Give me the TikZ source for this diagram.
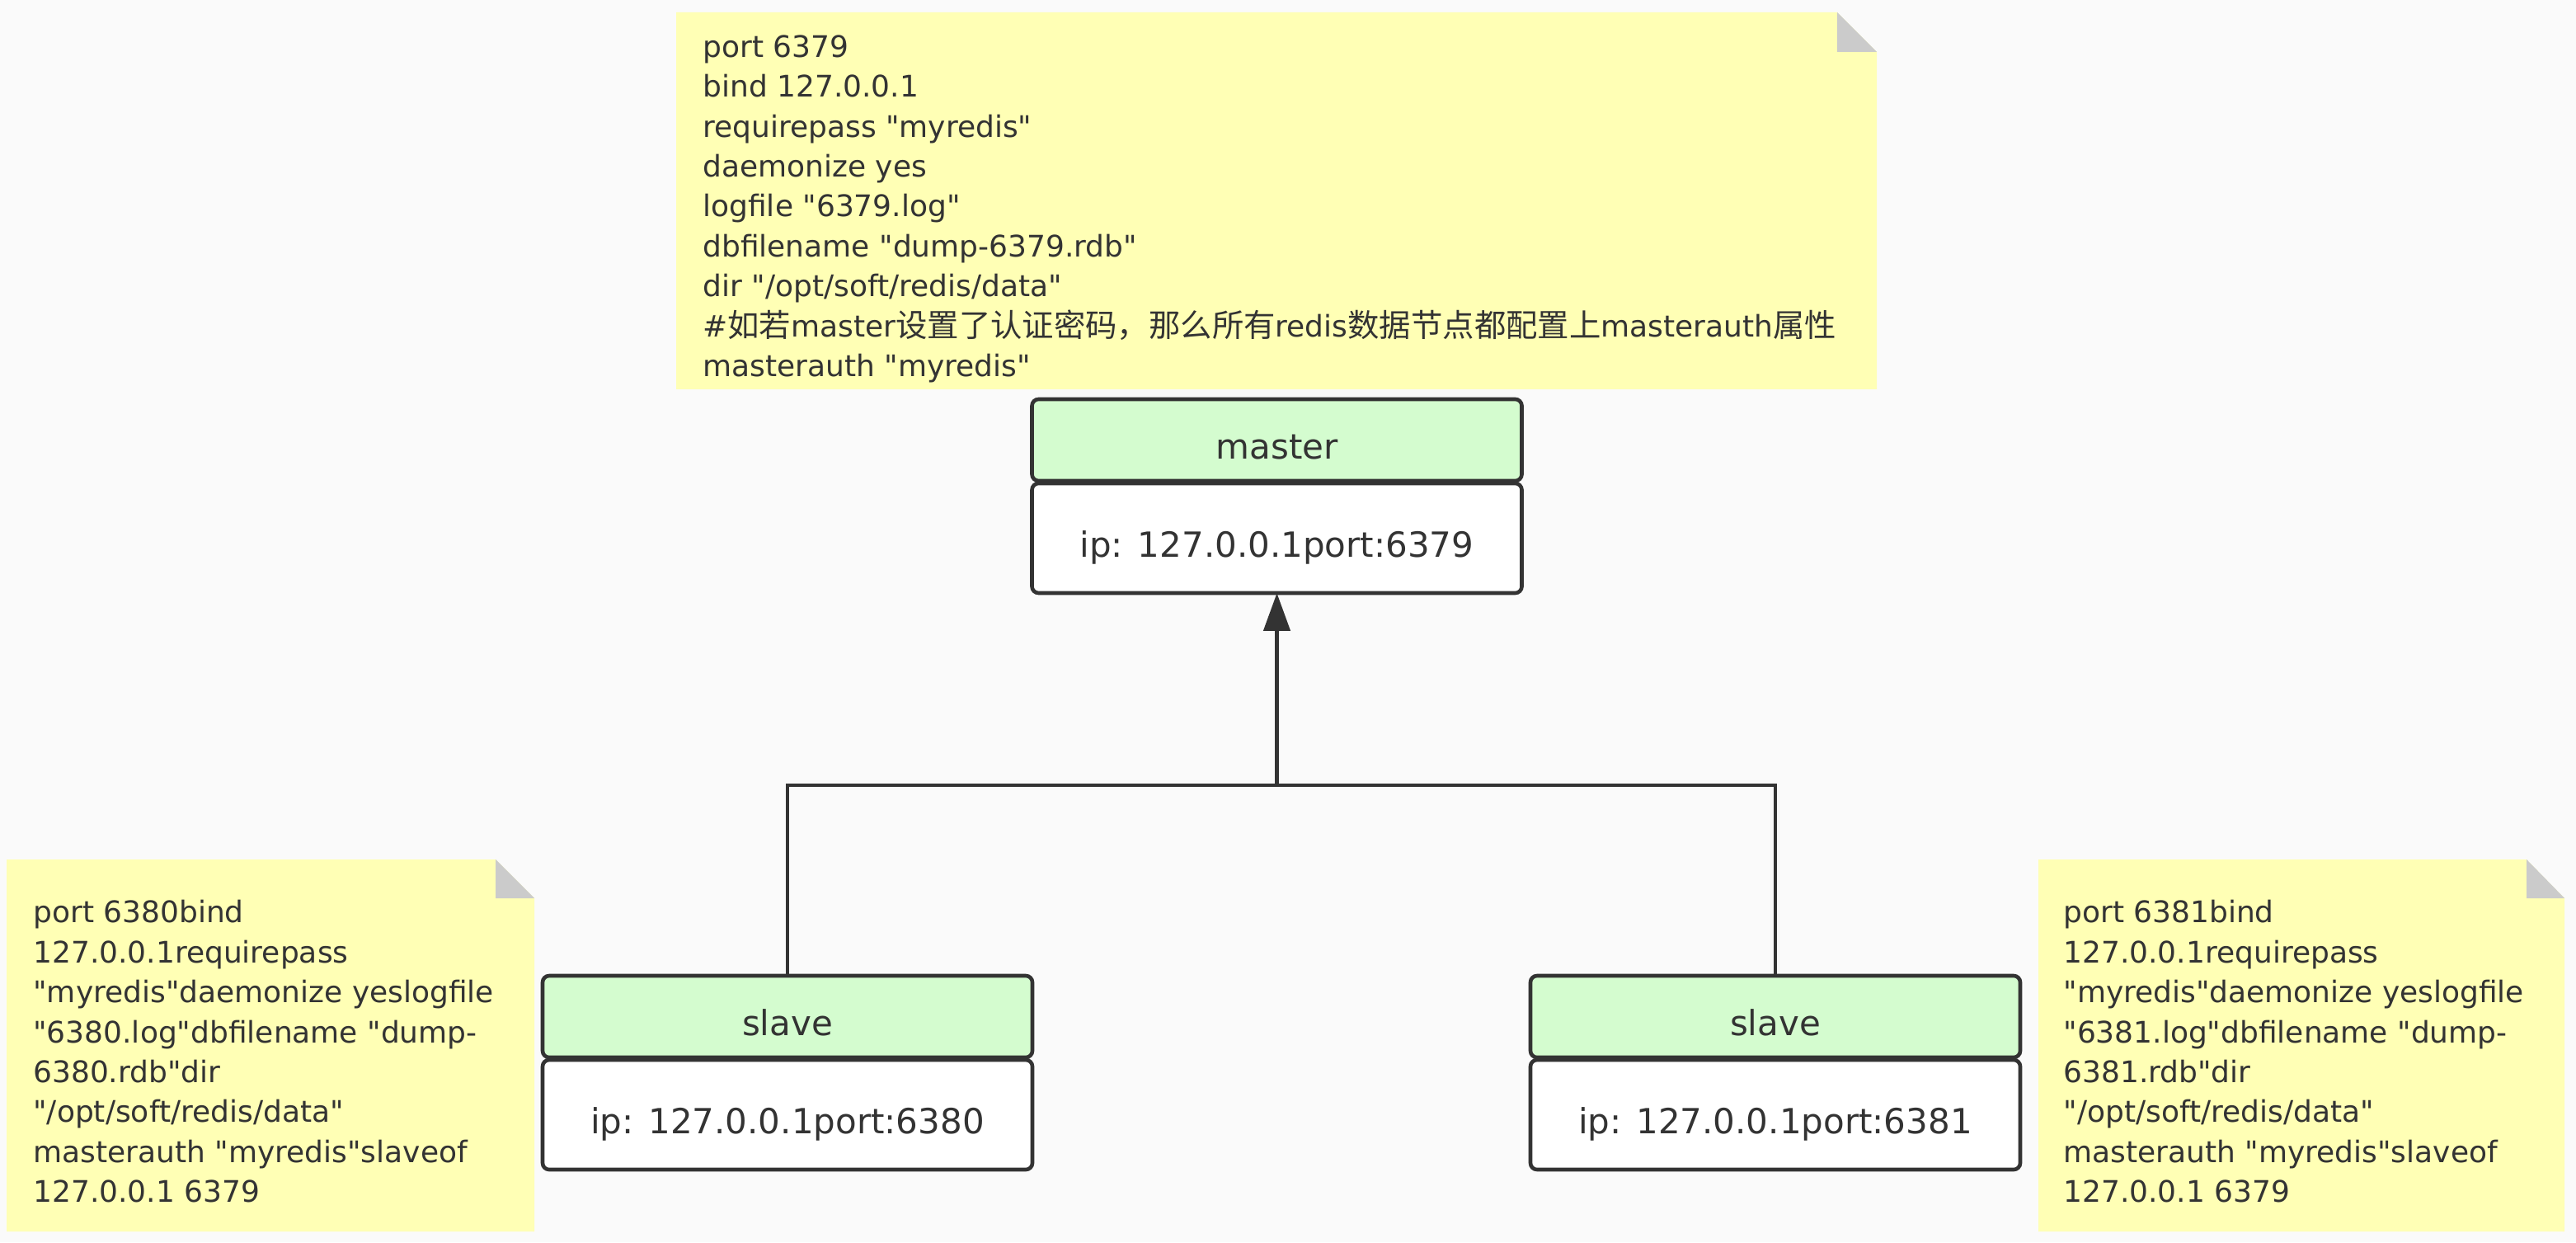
\documentclass[tikz,border=0pt]{standalone}
\usepackage{fontspec}
\setmainfont{DejaVu Sans}[Ligatures=TeXOff]
\newfontfamily\cjk{Noto Sans CJK SC}[Scale=1.066]
\usetikzlibrary{arrows.meta, positioning, calc}

\definecolor{bgcol}{HTML}{FAFAFA}
\definecolor{notecol}{HTML}{FFFFB5}
\definecolor{foldcol}{HTML}{CBCBCB}
\definecolor{headcol}{HTML}{D4FCCF}
\definecolor{inkcol}{HTML}{333333}

\tikzset{
  cardhead/.style={draw=inkcol, fill=headcol, line width=2.3pt, rounded corners=4pt,
    minimum width=297pt, minimum height=49.5pt, inner sep=0pt, outer sep=0pt,
    text=inkcol, font=\fontsize{21}{25}\selectfont, text height=23pt, text depth=0pt},
  cardbody/.style={cardhead, fill=white, minimum height=66.5pt},
  link/.style={draw=inkcol, line width=2.3pt},
  notetext/.style={anchor=north west, inner sep=0pt, align=left, text=inkcol,
    font=\fontsize{18}{24.2}\selectfont},
}

\begin{document}
\begin{tikzpicture}[x=1pt, y=1pt]
\useasboundingbox (0,0) rectangle (1562,753);
\fill[bgcol] (0,0) rectangle (1562,753);

% Notes (paper with folded corner)
\fill[notecol] (410,517) -- (410,745.5) -- (1114,745.5) -- (1138,721.5) -- (1138,517) -- cycle;
\fill[foldcol] (1114,745.5) -- (1114,721.5) -- (1138,721.5) -- cycle;
\fill[notecol] (4,6.5) -- (4,232) -- (300.5,232) -- (324,208.5) -- (324,6.5) -- cycle;
\fill[foldcol] (300.5,232) -- (300.5,208.5) -- (324,208.5) -- cycle;
\fill[notecol] (1236,6.5) -- (1236,232) -- (1532,232) -- (1555,208.5) -- (1555,6.5) -- cycle;
\fill[foldcol] (1532,232) -- (1532,208.5) -- (1555,208.5) -- cycle;

% Note texts
\node[notetext] (mnote) at (426,732.5) {\rule{0pt}{14pt}port 6379\\
  bind 127.0.0.1\\
  requirepass "myredis"\\
  daemonize yes\\
  logfile "6379.log"\\
  dbfilename "dump-6379.rdb"\\
  dir "/opt/soft/redis/data"\\
  \#{\cjk 如若}master{\cjk 设置了认证密码，那么所有}redis{\cjk 数据节点都配置上}masterauth{\cjk 属性}\\
  masterauth "myredis"};
\node[notetext] (s1note) at (20,207.8) {\rule{0pt}{14pt}port 6380bind\\
  127.0.0.1requirepass\\
  "myredis"daemonize yeslogfile\\
  "6380.log"dbfilename "dump-\\
  6380.rdb"dir\\
  "/opt/soft/redis/data"\\
  masterauth "myredis"slaveof\\
  127.0.0.1 6379};
\node[notetext] (s2note) at (1251,207.8) {\rule{0pt}{14pt}port 6381bind\\
  127.0.0.1requirepass\\
  "myredis"daemonize yeslogfile\\
  "6381.log"dbfilename "dump-\\
  6381.rdb"dir\\
  "/opt/soft/redis/data"\\
  masterauth "myredis"slaveof\\
  127.0.0.1 6379};

% Master and slaves
\node[cardhead] (mhead) at (774.25,486.25) {master};
\node[cardbody, below=1.5pt of mhead] (mbody) {ip: 127.0.0.1port:6379};
\node[cardhead] (s1head) at (477.5,136.75) {slave};
\node[cardbody, below=1.5pt of s1head] (s1body) {ip: 127.0.0.1port:6380};
\node[cardhead] (s2head) at (1076.5,136.75) {slave};
\node[cardbody, below=1.5pt of s2head] (s2body) {ip: 127.0.0.1port:6381};

% Replication links
\coordinate (join) at ($(mbody.south)+(0,-116.5)$);
\draw[link] (s1head.north) |- (join);
\draw[link] (s2head.north) |- (join);
\draw[link, -{Triangle[length=23pt, width=16pt]}] (join) -- (mbody.south);
\end{tikzpicture}
\end{document}
